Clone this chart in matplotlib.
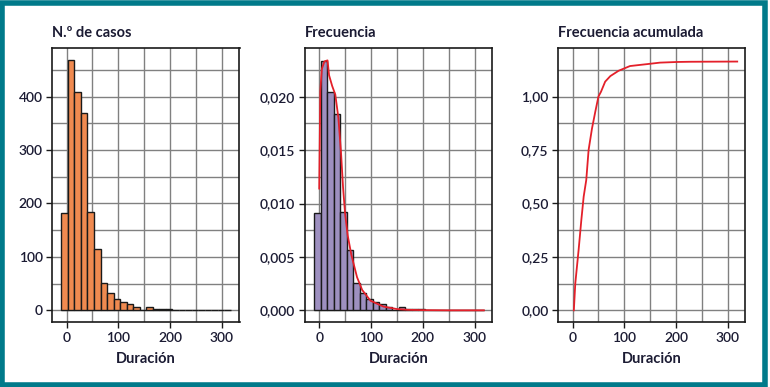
import numpy as np
import matplotlib
matplotlib.use("Agg")
import matplotlib.pyplot as plt
from matplotlib.patches import Rectangle
from matplotlib.ticker import MultipleLocator

# histogram data (bins of equal width starting at bin_start)
bin_start = -10
bin_width = 12.6
counts = [182, 468, 409, 369, 184, 114, 52, 32, 21, 15, 11, 6, 1,
          6, 2, 2, 2, 0, 1, 0, 0, 1, 0, 1, 1, 1]
freq = [0.00908, 0.02335, 0.02041, 0.01841, 0.00918, 0.00569, 0.00259,
        0.00160, 0.00105, 0.00075, 0.00055, 0.00030, 0.00005, 0.00030,
        0.00010, 0.00010, 0.00010, 0.0, 0.00005, 0.0, 0.0, 0.00005, 0.0,
        0.00005, 0.00005, 0.00005]

# density curve (red line, middle panel)
dens_x = [0, 2, 5, 10, 16, 19, 25, 31, 37, 42, 46, 50, 55, 62, 73, 83,
          99, 124, 150, 170, 200, 250, 318]
dens_y = [0.0114, 0.0205, 0.0226, 0.0233, 0.0234, 0.0220, 0.0210, 0.0202,
          0.0180, 0.0148, 0.0115, 0.0090, 0.0070, 0.0052, 0.0031, 0.0019,
          0.0009, 0.00035, 0.00012, 0.00005, 0.00002, 0.0, 0.0]

# cumulative frequency curve
cum_x = [2.5, 5.3, 11.7, 17, 21.5, 26.5, 31, 37.5, 44, 50, 55, 63, 73, 89,
         111, 144, 169, 202, 227, 318]
cum_y = [0.0, 0.126, 0.282, 0.423, 0.532, 0.61, 0.75, 0.85, 0.93, 1.0,
         1.023, 1.07, 1.096, 1.121, 1.143, 1.152, 1.159, 1.162, 1.163, 1.164]

titles = ["N.º de casos", "Frecuencia", "Frecuencia acumulada"]
x_ticks = [0, 100, 200, 300]
y_ticks = [[0, 100, 200, 300, 400],
           [0, 0.005, 0.010, 0.015, 0.020],
           [0, 0.25, 0.50, 0.75, 1.00]]
y_ticklabels = [["0", "100", "200", "300", "400"],
                ["0,000", "0,005", "0,010", "0,015", "0,020"],
                ["0,00", "0,25", "0,50", "0,75", "1,00"]]

plt.rcParams['font.family'] = ['Lato', 'DejaVu Sans']
text_col = '#1b1b33'
grid_col = '#808080'
red = '#e4202a'

fig = plt.figure(figsize=(7.7, 3.87), dpi=100)
fig.patches.append(Rectangle((0.003, 0.005), 0.991, 0.986, transform=fig.transFigure,
                             fill=False, edgecolor='#007a8a', linewidth=4, zorder=10))

lefts = [52.3 / 770, 305 / 770, 558.3 / 770]
width = 187.2 / 770
bottom = 1 - 322.3 / 387
height = (322.3 - 48.3) / 387
ylims = [(-22.5, 490.6), (-0.00112, 0.02453), (-0.056, 1.226)]
y_minor = [50, 0.0025, 0.125]

axes = [fig.add_axes([l, bottom, width, height]) for l in lefts]
edges = [bin_start + i * bin_width for i in range(len(counts))]

axes[0].bar(edges, counts, width=bin_width, align='edge', color='#f08a50',
            edgecolor='#1a1a1a', linewidth=1.0, zorder=3)
axes[1].bar(edges, freq, width=bin_width, align='edge', color='#9e90c0',
            edgecolor='#1a1a1a', linewidth=1.0, zorder=3)
axes[1].plot(dens_x, dens_y, color=red, linewidth=1.3, zorder=4)
axes[2].plot(cum_x, cum_y, color=red, linewidth=1.3, zorder=4)

for i, ax in enumerate(axes):
    ax.set_xlim(-27.5, 334)
    ax.set_ylim(*ylims[i])
    ax.set_xticks(x_ticks)
    ax.set_yticks(y_ticks[i])
    ax.set_yticklabels(y_ticklabels[i])
    ax.xaxis.set_minor_locator(MultipleLocator(50))
    ax.yaxis.set_minor_locator(MultipleLocator(y_minor[i]))
    ax.grid(True, which='both', color=grid_col, linewidth=1.0)
    ax.set_axisbelow(True)
    ax.tick_params(which='minor', length=0)
    ax.tick_params(which='major', length=4, width=1, color='#1a1a1a',
                   labelsize=10, labelcolor=text_col, pad=3)
    for lab in ax.get_xticklabels() + ax.get_yticklabels():
        lab.set_fontweight('semibold')
    for sp in ax.spines.values():
        sp.set_linewidth(1.2)
        sp.set_color('#1a1a1a')
    ax.set_xlabel("Duración", fontsize=10.5, fontweight='bold', color=text_col, labelpad=6)
    ax.set_title(titles[i], loc='left', fontsize=10.5, fontweight='bold',
                 color=text_col, pad=8)

fig.savefig("out.png", dpi=100, facecolor='white')
